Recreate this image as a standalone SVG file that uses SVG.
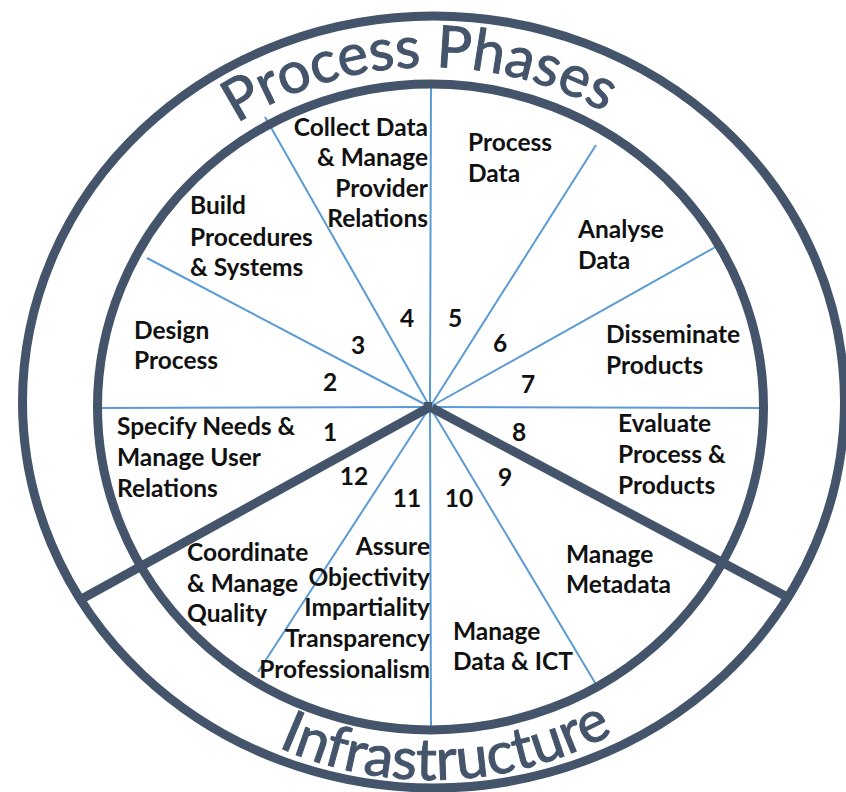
<svg xmlns="http://www.w3.org/2000/svg" width="846" height="792" viewBox="0 0 846 792">
<style>
.lbl{font-family:Lato,"Liberation Sans",sans-serif;font-weight:bold;font-size:24.5px;fill:#111;}
.r{text-anchor:end;}
.num{font-family:Lato,"Liberation Sans",sans-serif;font-weight:bold;font-size:24.5px;fill:#111;text-anchor:middle;}
.ring{fill:none;stroke:#44546A;stroke-width:9;}
.thin{stroke:#5B9BD5;stroke-width:2;fill:none;}
.thick{stroke:#44546A;stroke-width:9;fill:none;stroke-linecap:butt;}
.title{font-family:Lato,"Liberation Sans",sans-serif;font-size:58px;fill:#44546A;stroke:#44546A;stroke-width:1;}
</style>
<defs>
<path id="arcTop" d="M 80 407 A 350 340 0 0 1 780 407"/>
<path id="arcBot" d="M 56 407 A 376 373 0 0 0 808 407"/>
</defs>
<rect width="846" height="792" fill="#fff"/>
<g id="connectors">
<line class="thin" x1="430" y1="407" x2="431" y2="84"/>
<line class="thin" x1="430" y1="407" x2="596" y2="145"/>
<line class="thin" x1="430" y1="407" x2="719" y2="245"/>
<line class="thin" x1="430" y1="407" x2="764" y2="408"/>
<line class="thin" x1="430" y1="407" x2="597" y2="686"/>
<line class="thin" x1="430" y1="407" x2="431" y2="730"/>
<line class="thin" x1="430" y1="407" x2="258" y2="672"/>
<line class="thin" x1="430" y1="407" x2="97" y2="408"/>
<line class="thin" x1="430" y1="407" x2="147" y2="258"/>
<line class="thin" x1="430" y1="407" x2="265" y2="117"/>
<line class="thick" x1="428" y1="408" x2="78" y2="601"/>
<line class="thick" x1="432" y1="408" x2="789" y2="598"/>
<rect x="424" y="402" width="8" height="10" fill="#44546A"/>
</g>
<g id="rings">
<ellipse class="ring" cx="430.5" cy="407" rx="333" ry="323"/>
<ellipse class="ring" cx="433.5" cy="402" rx="411" ry="386"/>
</g>
<g id="title-top">
<text class="title"><textPath href="#arcTop" startOffset="49%" text-anchor="middle">Process Phases</textPath></text>
</g>
<g id="title-bottom">
<text class="title"><textPath href="#arcBot" startOffset="51.3%" text-anchor="middle">Infrastructure</textPath></text>
</g>
<g id="seg1"><text class="lbl" x="117" y="435">Specify Needs &amp;</text><text class="lbl" x="117" y="466">Manage User</text><text class="lbl" x="117" y="497">Relations</text><text class="num" x="330" y="441">1</text></g>
<g id="seg2"><text class="lbl" x="134" y="339">Design</text><text class="lbl" x="134" y="369">Process</text><text class="num" x="330" y="391">2</text></g>
<g id="seg3"><text class="lbl" x="190" y="214">Build</text><text class="lbl" x="190" y="246">Procedures</text><text class="lbl" x="190" y="276">&amp; Systems</text><text class="num" x="358" y="354">3</text></g>
<g id="seg4"><text class="lbl r" x="428" y="136">Collect Data</text><text class="lbl r" x="428" y="166">&amp; Manage</text><text class="lbl r" x="428" y="197">Provider</text><text class="lbl r" x="428" y="227">Relations</text><text class="num" x="407" y="327">4</text></g>
<g id="seg5"><text class="lbl" x="468" y="151">Process</text><text class="lbl" x="468" y="182">Data</text><text class="num" x="455" y="327">5</text></g>
<g id="seg6"><text class="lbl" x="578" y="238">Analyse</text><text class="lbl" x="578" y="269">Data</text><text class="num" x="500" y="352">6</text></g>
<g id="seg7"><text class="lbl" x="606" y="343">Disseminate</text><text class="lbl" x="606" y="374">Products</text><text class="num" x="528" y="393">7</text></g>
<g id="seg8"><text class="lbl" x="618" y="432">Evaluate</text><text class="lbl" x="618" y="463">Process &amp;</text><text class="lbl" x="618" y="494">Products</text><text class="num" x="519" y="441">8</text></g>
<g id="seg9"><text class="lbl" x="566" y="563">Manage</text><text class="lbl" x="566" y="593">Metadata</text><text class="num" x="505" y="486">9</text></g>
<g id="seg10"><text class="lbl" x="453" y="640">Manage</text><text class="lbl" x="453" y="670">Data &amp; ICT</text><text class="num" x="459" y="507">10</text></g>
<g id="seg11"><text class="lbl r" x="430" y="555">Assure</text><text class="lbl r" x="430" y="586">Objectivity</text><text class="lbl r" x="430" y="616">Impartiality</text><text class="lbl r" x="430" y="647">Transparency</text><text class="lbl r" x="430" y="678">Professionalism</text><text class="num" x="407" y="507">11</text></g>
<g id="seg12"><text class="lbl" x="187" y="561">Coordinate</text><text class="lbl" x="187" y="592">&amp; Manage</text><text class="lbl" x="187" y="622">Quality</text><text class="num" x="354" y="485">12</text></g>
</svg>
